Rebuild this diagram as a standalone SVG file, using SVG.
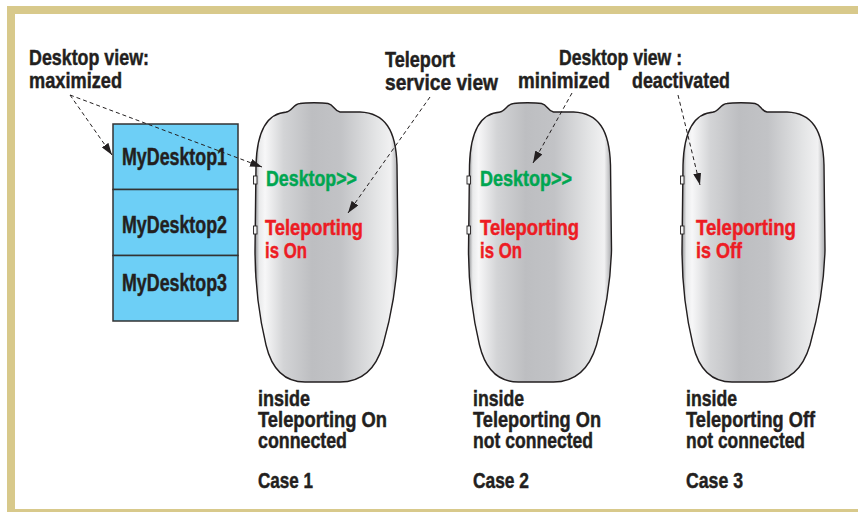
<svg xmlns="http://www.w3.org/2000/svg" width="858" height="512" viewBox="0 0 858 512">
  <defs>
    <linearGradient id="phoneFill" x1="0" y1="0" x2="1" y2="0">
      <stop offset="0" stop-color="#8d8e91"/>
      <stop offset="0.03" stop-color="#e9eaeb"/>
      <stop offset="0.07" stop-color="#f7f7f8"/>
      <stop offset="0.2" stop-color="#d3d4d6"/>
      <stop offset="0.4" stop-color="#bdbec1"/>
      <stop offset="0.6" stop-color="#c2c3c6"/>
      <stop offset="0.85" stop-color="#e4e5e6"/>
      <stop offset="0.95" stop-color="#f1f1f2"/>
      <stop offset="1" stop-color="#a9aaad"/>
    </linearGradient>
    <marker id="arrow" viewBox="0 0 12 8" refX="12" refY="4" markerWidth="12" markerHeight="8" markerUnits="userSpaceOnUse" orient="auto">
      <path d="M0 0 L12 4 L0 8 Z" fill="#231f20"/>
    </marker>
    <!-- handset outline, drawn at the Case 1 position -->
    <path id="handset" d="M286 112 C292 112 293 104 300 103.5 C306 102.5 322 102.5 328 103.5 C334 104.5 334 111 340 112 L360 112 C385 113 396 130 397 165 L398 250 C397 290 390 320 383 345 C375 372 360 382 340 382 L305 382 C285 382 272 370 266 345 C260 320 255 290 255 250 L256 165 C257 130 267 113 287 112 Z"/>
    <g id="phoneBody">
      <use href="#handset" fill="url(#phoneFill)" stroke="#231f20" stroke-width="1.4"/>
      <rect x="253.5" y="176" width="3.5" height="8" fill="#f2f2f2" stroke="#231f20" stroke-width="0.9"/>
      <rect x="253.5" y="226" width="3.5" height="8" fill="#f2f2f2" stroke="#231f20" stroke-width="0.9"/>
    </g>
  </defs>
  <style>
    text { font-family: "Liberation Sans Narrow", "Arial Narrow", "Liberation Sans", Arial, sans-serif; font-weight: bold; font-size: 21.5px; fill: #231f20; stroke: #231f20; stroke-width: 0.45; }
    .box text { font-size: 23px; }
    .green { fill: #00a651; stroke: #00a651; }
    .red { fill: #ed1c24; stroke: #ed1c24; }
    .box rect { fill: #6dcff6; stroke: #333333; stroke-width: 1.5; }
    .conn line { stroke: #231f20; stroke-width: 1; stroke-dasharray: 4 3; fill: none; }
  </style>

  <!-- page background and frame -->
  <rect x="0" y="0" width="858" height="512" fill="#ffffff"/>
  <rect x="11" y="10" width="900" height="503" fill="#ffffff" stroke="#d8c98b" stroke-width="8"/>

  <!-- labels -->
  <g id="label-maximized">
    <text x="29" y="65" textLength="120" lengthAdjust="spacingAndGlyphs">Desktop view:</text>
    <text x="29" y="88" textLength="93" lengthAdjust="spacingAndGlyphs">maximized</text>
  </g>
  <g id="label-teleport">
    <text x="385" y="67" textLength="70" lengthAdjust="spacingAndGlyphs">Teleport</text>
    <text x="385" y="90" textLength="113" lengthAdjust="spacingAndGlyphs">service view</text>
  </g>
  <g id="label-desktop-view">
    <text x="559" y="65" textLength="123" lengthAdjust="spacingAndGlyphs">Desktop view :</text>
    <text x="518" y="88" textLength="92" lengthAdjust="spacingAndGlyphs">minimized</text>
    <text x="632" y="88" textLength="98" lengthAdjust="spacingAndGlyphs">deactivated</text>
  </g>

  <!-- desktop list -->
  <g id="desktops" class="box">
    <g id="mydesktop1">
      <rect x="113" y="124" width="125" height="65.5"/>
      <text x="122" y="165" textLength="105" lengthAdjust="spacingAndGlyphs">MyDesktop1</text>
    </g>
    <g id="mydesktop2">
      <rect x="113" y="189.5" width="125" height="66"/>
      <text x="122" y="233" textLength="105" lengthAdjust="spacingAndGlyphs">MyDesktop2</text>
    </g>
    <g id="mydesktop3">
      <rect x="113" y="255.5" width="125" height="65.5"/>
      <text x="122" y="291" textLength="105" lengthAdjust="spacingAndGlyphs">MyDesktop3</text>
    </g>
  </g>

  <!-- Case 1 -->
  <g id="case1">
    <use href="#phoneBody"/>
    <text class="green" x="266" y="186" textLength="91" lengthAdjust="spacingAndGlyphs">Desktop&gt;&gt;</text>
    <text class="red" x="265" y="235" textLength="98" lengthAdjust="spacingAndGlyphs">Teleporting</text>
    <text class="red" x="265" y="258" textLength="42" lengthAdjust="spacingAndGlyphs">is On</text>
    <text x="258" y="406" textLength="52" lengthAdjust="spacingAndGlyphs">inside</text>
    <text x="258" y="427" textLength="129" lengthAdjust="spacingAndGlyphs">Teleporting On</text>
    <text x="258" y="448" textLength="89" lengthAdjust="spacingAndGlyphs">connected</text>
    <text x="258" y="488" textLength="55" lengthAdjust="spacingAndGlyphs">Case 1</text>
  </g>

  <!-- Case 2 -->
  <g id="case2">
    <use href="#phoneBody" transform="translate(213.5 0)"/>
    <text class="green" x="480" y="186" textLength="92" lengthAdjust="spacingAndGlyphs">Desktop&gt;&gt;</text>
    <text class="red" x="480" y="235" textLength="99" lengthAdjust="spacingAndGlyphs">Teleporting</text>
    <text class="red" x="480" y="258" textLength="42" lengthAdjust="spacingAndGlyphs">is On</text>
    <text x="473" y="406" textLength="51" lengthAdjust="spacingAndGlyphs">inside</text>
    <text x="473" y="427" textLength="128" lengthAdjust="spacingAndGlyphs">Teleporting On</text>
    <text x="473" y="448" textLength="120" lengthAdjust="spacingAndGlyphs">not connected</text>
    <text x="473" y="488" textLength="56" lengthAdjust="spacingAndGlyphs">Case 2</text>
  </g>

  <!-- Case 3 -->
  <g id="case3">
    <use href="#phoneBody" transform="translate(427 0)"/>
    <text class="red" x="696" y="235" textLength="100" lengthAdjust="spacingAndGlyphs">Teleporting</text>
    <text class="red" x="696" y="258" textLength="46" lengthAdjust="spacingAndGlyphs">is Off</text>
    <text x="686" y="406" textLength="51" lengthAdjust="spacingAndGlyphs">inside</text>
    <text x="686" y="427" textLength="129" lengthAdjust="spacingAndGlyphs">Teleporting Off</text>
    <text x="686" y="448" textLength="119" lengthAdjust="spacingAndGlyphs">not connected</text>
    <text x="686" y="488" textLength="57" lengthAdjust="spacingAndGlyphs">Case 3</text>
  </g>

  <!-- connectors -->
  <g id="connectors" class="conn">
    <line x1="70" y1="95" x2="112" y2="155" marker-end="url(#arrow)"/>
    <line x1="70" y1="95" x2="262" y2="167" marker-end="url(#arrow)"/>
    <line x1="430" y1="97" x2="348" y2="213" marker-end="url(#arrow)"/>
    <line x1="572" y1="93" x2="533" y2="163" marker-end="url(#arrow)"/>
    <line x1="678" y1="95" x2="700" y2="185" marker-end="url(#arrow)"/>
  </g>
</svg>
